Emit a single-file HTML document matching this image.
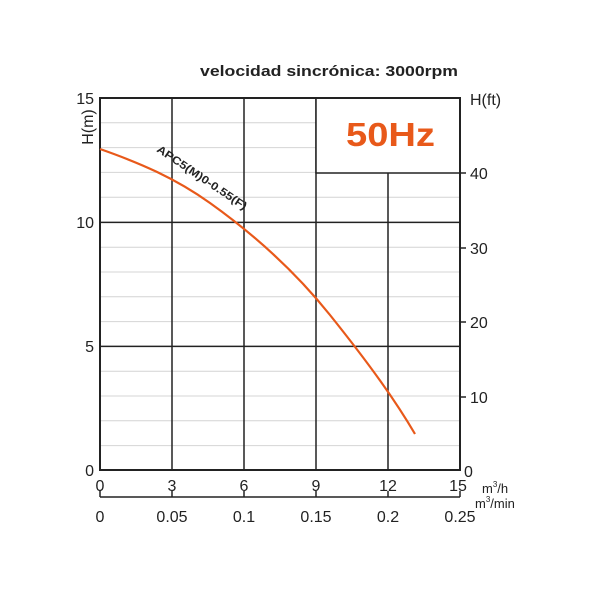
<!DOCTYPE html>
<html><head><meta charset="utf-8"><style>body{margin:0;background:#fff}</style></head><body>
<svg width="600" height="600" xmlns="http://www.w3.org/2000/svg" font-family="Liberation Sans, sans-serif">
<rect width="600" height="600" fill="#fff"/>
<g stroke="#d4d4d4" stroke-width="1">
<line x1="100" x2="460" y1="122.8" y2="122.8"/><line x1="100" x2="460" y1="147.6" y2="147.6"/><line x1="100" x2="460" y1="172.4" y2="172.4"/>
<line x1="100" x2="460" y1="197.2" y2="197.2"/><line x1="100" x2="460" y1="247.2" y2="247.2"/>
<line x1="100" x2="460" y1="272" y2="272"/><line x1="100" x2="460" y1="296.8" y2="296.8"/><line x1="100" x2="460" y1="321.6" y2="321.6"/>
<line x1="100" x2="460" y1="371.2" y2="371.2"/><line x1="100" x2="460" y1="396" y2="396"/><line x1="100" x2="460" y1="420.8" y2="420.8"/><line x1="100" x2="460" y1="445.6" y2="445.6"/>
</g>
<g stroke="#222" stroke-width="1.5">
<line x1="100" x2="460" y1="222.4" y2="222.4"/><line x1="100" x2="460" y1="346.4" y2="346.4"/>
<line x1="172" x2="172" y1="98" y2="470"/><line x1="244" x2="244" y1="98" y2="470"/><line x1="316" x2="316" y1="98" y2="470"/><line x1="388" x2="388" y1="98" y2="470"/>
</g>
<rect x="316" y="98" width="144" height="75" fill="#fff" stroke="#222" stroke-width="1.5"/>
<text x="346" y="146" font-size="33" font-weight="bold" fill="#e8591a" textLength="89" lengthAdjust="spacingAndGlyphs">50Hz</text>
<rect x="100" y="98" width="360" height="372" fill="none" stroke="#222" stroke-width="2"/>
<path d="M100,149 C140,163 175,178 210,203 S290,265 330,315 S395,400 415,434" fill="none" stroke="#e8591a" stroke-width="2.2"/>
<text x="156" y="151" font-size="11" font-weight="bold" fill="#222" transform="rotate(34 156 151)" textLength="106" lengthAdjust="spacingAndGlyphs">APC5(M)0-0.55(F)</text>
<g stroke="#222" stroke-width="1.5">
<line x1="460" x2="466" y1="173" y2="173"/><line x1="460" x2="466" y1="248" y2="248"/><line x1="460" x2="466" y1="322" y2="322"/><line x1="460" x2="466" y1="397" y2="397"/>
<line x1="100" x2="460" y1="497" y2="497"/>
<line x1="100" x2="100" y1="491" y2="497"/><line x1="172" x2="172" y1="491" y2="497"/><line x1="244" x2="244" y1="491" y2="497"/><line x1="316" x2="316" y1="491" y2="497"/><line x1="388" x2="388" y1="491" y2="497"/><line x1="460" x2="460" y1="491" y2="497"/>
</g>
<g font-size="16" fill="#222">
<text x="94" y="104" text-anchor="end">15</text><text x="94" y="228" text-anchor="end">10</text><text x="94" y="352" text-anchor="end">5</text><text x="94" y="476" text-anchor="end">0</text>
<text x="470" y="179">40</text><text x="470" y="254">30</text><text x="470" y="328">20</text><text x="470" y="403">10</text><text x="464" y="477">0</text>
<text x="470" y="105">H(ft)</text>
<text x="93" y="127" transform="rotate(-90 93 127)" text-anchor="middle">H(m)</text>
<g text-anchor="middle"><text x="100" y="491">0</text><text x="172" y="491">3</text><text x="244" y="491">6</text><text x="316" y="491">9</text><text x="388" y="491">12</text><text x="458" y="491">15</text>
<text x="100" y="522">0</text><text x="172" y="522">0.05</text><text x="244" y="522">0.1</text><text x="316" y="522">0.15</text><text x="388" y="522">0.2</text><text x="460" y="522">0.25</text></g>
</g>
<text x="482" y="493" font-size="13" fill="#222">m<tspan font-size="8" dy="-6">3</tspan><tspan dy="6">/h</tspan></text>
<text x="475" y="508" font-size="13" fill="#222">m<tspan font-size="8" dy="-6">3</tspan><tspan dy="6">/min</tspan></text>
<text x="200" y="76" font-size="15" font-weight="bold" fill="#222" textLength="258" lengthAdjust="spacingAndGlyphs">velocidad sincrónica: 3000rpm</text>
</svg>
</body></html>
